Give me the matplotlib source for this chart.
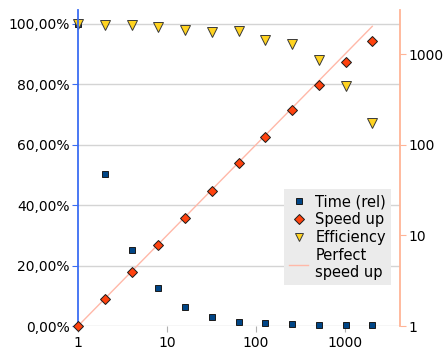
import numpy as np
import matplotlib
matplotlib.use('Agg')
import matplotlib.pyplot as plt
from matplotlib.ticker import FixedLocator, FuncFormatter

procs = [1, 2, 4, 8, 16, 32, 64, 128, 256, 512, 1024, 2048]
time_rel = [100.0, 50.2, 25.1, 12.5, 6.4, 3.1, 1.4, 0.9, 0.5, 0.4, 0.2, 0.2]
speed_up = [1.0, 1.99, 3.98, 7.9, 15.6, 31.3, 63, 122, 244, 457, 826, 1421]
efficiency = [100.0, 99.6, 99.5, 99.0, 97.9, 97.2, 97.6, 94.6, 93.3, 87.8, 79.3, 67.2]
perfect_x = [1, 2048]
perfect_y = [1, 2048]
pct_ticks = [0, 20, 40, 60, 80, 100]
right_ticks = [1, 10, 100, 1000]
x_ticks = [1, 10, 100, 1000]

blue_axis = '#3b6df2'
salmon = '#ffb496'

fig = plt.figure(figsize=(4.45, 3.49), dpi=100)
ax = fig.add_axes([0.1753, 0.0659, 0.7236, 0.9054])
ax2 = ax.twinx()

ax.set_xscale('log')
ax.set_xlim(1, 4200)
ax.set_ylim(0, 104.46)
ax2.set_yscale('log')
ax2.set_ylim(1, 3100)

# grid
for v in pct_ticks:
    ax.axhline(v, color='#d4d4d4', lw=1, zorder=0)

h1, = ax.plot(procs, time_rel, 's', ms=4.8, mfc='#004586', mec='#1a1a1a', mew=0.7,
              ls='none', label='Time (rel)', zorder=3, clip_on=False)
h3, = ax.plot(procs, efficiency, 'v', ms=7, mfc='#ffd320', mec='#3a3a3a', mew=0.7,
              ls='none', label='Efficiency', zorder=4, clip_on=False)
h4, = ax2.plot(perfect_x, perfect_y, '-', color='#ffb8a8', lw=1, label='Perfect\nspeed up', zorder=2)
h2, = ax2.plot(procs, speed_up, 'D', ms=5.2, mfc='#ff420e', mec='#1a1a1a', mew=0.7,
               ls='none', label='Speed up', zorder=3, clip_on=False)

ax.xaxis.set_major_locator(FixedLocator(x_ticks))
ax.xaxis.set_minor_locator(FixedLocator([]))
ax.xaxis.set_major_formatter(FuncFormatter(lambda v, p: '%d' % v))
ax.tick_params(axis='x', colors='#b0b0b0', labelcolor='black', labelsize=10, length=4, pad=3)

ax.yaxis.set_major_locator(FixedLocator(pct_ticks))
ax.yaxis.set_major_formatter(FuncFormatter(lambda v, p: ('%.2f%%' % v).replace('.', ',')))
ax.tick_params(axis='y', colors=blue_axis, labelcolor='black', labelsize=10, length=4, pad=2)

ax2.yaxis.set_major_locator(FixedLocator(right_ticks))
ax2.yaxis.set_minor_locator(FixedLocator([]))
ax2.yaxis.set_major_formatter(FuncFormatter(lambda v, p: '%d' % v))
ax2.tick_params(axis='y', colors=salmon, labelcolor='black', labelsize=10, length=4, pad=2)

for a in (ax, ax2):
    a.spines['top'].set_visible(False)
    a.spines['bottom'].set_visible(False)
ax.spines['right'].set_visible(False)
ax2.spines['left'].set_color(blue_axis)
ax2.spines['left'].set_linewidth(1.3)
ax2.spines['right'].set_color(salmon)
ax2.spines['right'].set_linewidth(1.3)
ax.spines['left'].set_visible(False)

leg = ax2.legend(handles=[h1, h2, h3, h4], loc='upper left',
                 bbox_to_anchor=(284 / 445, 1 - 189 / 349), bbox_transform=fig.transFigure,
                 frameon=True, fancybox=False, fontsize=10.5, handlelength=1.3,
                 handletextpad=0.5, borderpad=0.35, labelspacing=0.2, borderaxespad=0,
                 markerscale=0.9)
leg.get_frame().set_facecolor('#ebebeb')
leg.get_frame().set_edgecolor('none')
leg.get_frame().set_alpha(1)
leg.set_zorder(10)

fig.savefig('out.png', dpi=100)
